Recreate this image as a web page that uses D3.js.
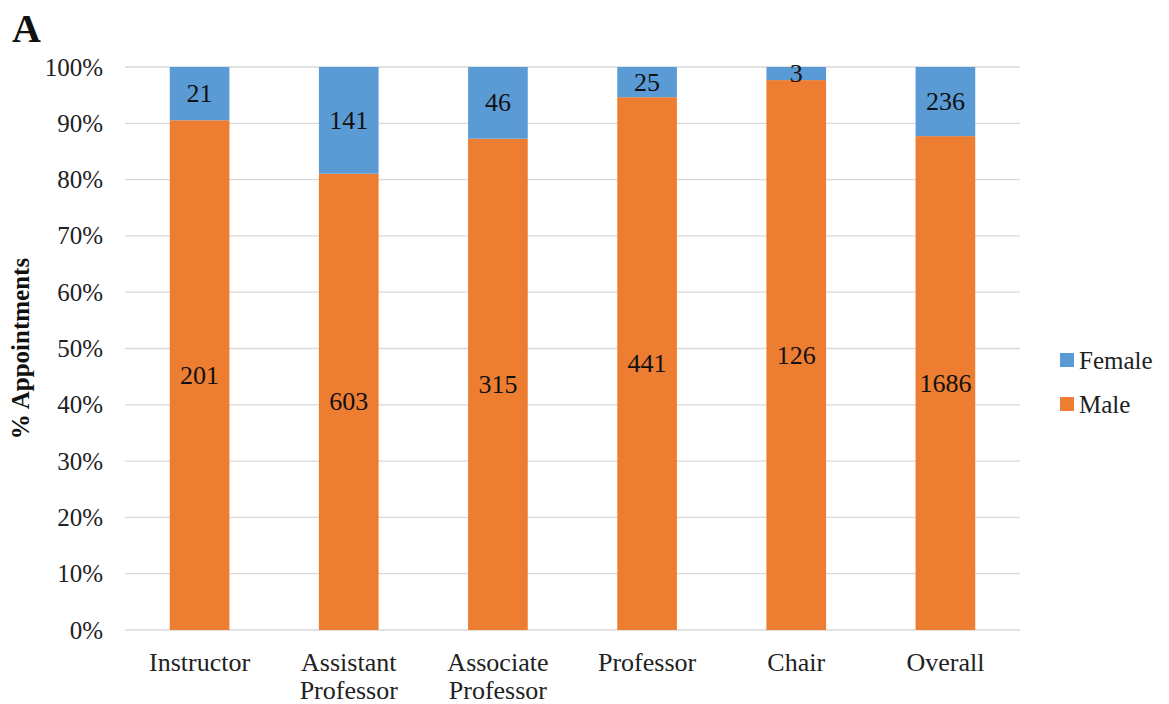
<!DOCTYPE html>
<html>
<head>
<meta charset="utf-8">
<script src="https://cdn.jsdelivr.net/npm/d3@7"></script>
<style>
  html, body { margin: 0; padding: 0; background: #fff; }
  svg { display: block; font-family: "Liberation Serif", "Times New Roman", serif; }
</style>
</head>
<body>
<svg id="chart" width="1169" height="704"></svg>
<script>
// Appointments by rank, split by gender
const categories = ["Instructor", "Assistant\nProfessor", "Associate\nProfessor", "Professor", "Chair", "Overall"];
const male = [201, 603, 315, 441, 126, 1686];
const female = [21, 141, 46, 25, 3, 236];
const seriesNames = ["Female", "Male"];
const seriesColors = ["#5B9BD5", "#ED7D31"];
const yTicks = [0, 0.1, 0.2, 0.3, 0.4, 0.5, 0.6, 0.7, 0.8, 0.9, 1.0];

const svg = d3.select("#chart");
const plot = { left: 125, right: 1020, top: 67, bottom: 630 };

const x = d3.scaleBand()
  .domain(categories)
  .range([plot.left, plot.right])
  .paddingInner(0.6)
  .paddingOuter(0.3);

const y = d3.scaleLinear().domain([0, 1]).range([plot.bottom, plot.top]);

// gridlines
svg.append("g")
  .selectAll("line")
  .data(yTicks)
  .join("line")
  .attr("x1", plot.left).attr("x2", plot.right)
  .attr("y1", d => y(d)).attr("y2", d => y(d))
  .attr("stroke", "#d9d9d9").attr("stroke-width", 1.3);

// y axis labels
const yAxis = d3.axisLeft(y).tickValues(yTicks).tickFormat(d3.format(".0%")).tickSize(0).tickPadding(22);
const yg = svg.append("g").attr("transform", `translate(${plot.left},0)`).call(yAxis);
yg.select(".domain").remove();
yg.selectAll("text").attr("font-size", 25).attr("fill", "#222").attr("font-family", "Liberation Serif, serif");

// stacked data
const rows = categories.map((c, i) => {
  const total = male[i] + female[i];
  return { cat: c, male: male[i], female: female[i], mShare: male[i] / total, total };
});

const bars = svg.append("g");
rows.forEach(r => {
  const bx = x(r.cat), bw = x.bandwidth();
  // Male segment from 0 to its share
  bars.append("rect")
    .attr("x", bx).attr("width", bw)
    .attr("y", y(r.mShare)).attr("height", y(0) - y(r.mShare))
    .attr("fill", seriesColors[1]);
  // Female segment on top
  bars.append("rect")
    .attr("x", bx).attr("width", bw)
    .attr("y", y(1)).attr("height", y(r.mShare) - y(1))
    .attr("fill", seriesColors[0]);
  // value labels
  bars.append("text")
    .attr("x", bx + bw / 2).attr("y", (y(0) + y(r.mShare)) / 2)
    .attr("text-anchor", "middle").attr("dominant-baseline", "central")
    .attr("font-size", 26).attr("fill", "#111")
    .text(r.male);
  bars.append("text")
    .attr("x", bx + bw / 2).attr("y", (y(r.mShare) + y(1)) / 2)
    .attr("text-anchor", "middle").attr("dominant-baseline", "central")
    .attr("font-size", 26).attr("fill", "#111")
    .text(r.female);
});

// category labels
const xg = svg.append("g");
categories.forEach(c => {
  const lines = c.split("\n");
  const t = xg.append("text")
    .attr("x", x(c) + x.bandwidth() / 2)
    .attr("y", 671)
    .attr("text-anchor", "middle")
    .attr("font-size", 26).attr("fill", "#222");
  lines.forEach((ln, k) => {
    t.append("tspan").attr("x", x(c) + x.bandwidth() / 2).attr("dy", k === 0 ? 0 : 28).text(ln);
  });
});

// y axis title
svg.append("text")
  .attr("transform", `translate(29, ${(plot.top + plot.bottom) / 2}) rotate(-90)`)
  .attr("text-anchor", "middle")
  .attr("font-size", 25).attr("font-weight", "bold").attr("fill", "#111")
  .text("% Appointments");

// panel letter
svg.append("text")
  .attr("x", 12).attr("y", 42)
  .attr("font-size", 40).attr("font-weight", "bold").attr("fill", "#111")
  .text("A");

// legend
const legend = svg.append("g");
seriesNames.forEach((name, i) => {
  const ly = 360 + i * 44;
  legend.append("rect")
    .attr("x", 1060).attr("y", ly - 7).attr("width", 14).attr("height", 14)
    .attr("fill", seriesColors[i]);
  legend.append("text")
    .attr("x", 1079).attr("y", ly).attr("dominant-baseline", "central")
    .attr("font-size", 25).attr("fill", "#222")
    .text(name);
});
</script>
</body>
</html>
